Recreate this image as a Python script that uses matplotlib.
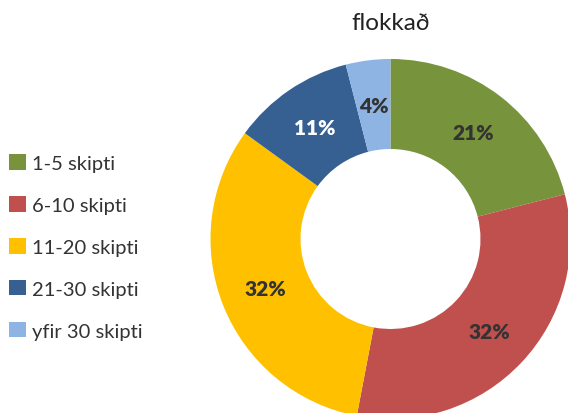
import matplotlib
matplotlib.use("Agg")
import matplotlib.pyplot as plt
from matplotlib.patches import Patch
import numpy as np

categories = ["1-5 skipti", "6-10 skipti", "11-20 skipti", "21-30 skipti", "yfir 30 skipti"]
values = [21, 32, 32, 11, 4]
labels = ["21%", "32%", "32%", "11%", "4%"]
colors = ["#77933C", "#C0504D", "#FFC000", "#376092", "#8DB4E2"]
label_colors = ["#333333", "#333333", "#333333", "#FFFFFF", "#333333"]

plt.rcParams['font.family'] = ['Lato', 'DejaVu Sans']

W, H = 568, 414
fig = plt.figure(figsize=(W / 100, H / 100), dpi=100)

cx, cy, R = 390.5, 240, 180
ax = fig.add_axes([(cx - R) / W, (H - cy - R) / H, 2 * R / W, 2 * R / H])
wedges, _ = ax.pie(values, colors=colors, startangle=90, counterclock=False,
                   radius=1.0, wedgeprops=dict(width=0.5, linewidth=0))
total = sum(values)
cum = 0
for v, lab, lc in zip(values, labels, label_colors):
    mid = cum + v / 2
    cum += v
    ang = np.deg2rad(90 - 360 * mid / total)
    ax.text(0.75 * np.cos(ang), 0.75 * np.sin(ang), lab, ha='center', va='center',
            fontsize=15, fontweight='heavy', color=lc)
ax.set_xlim(-1, 1)
ax.set_ylim(-1, 1)
ax.set_aspect('auto')
ax.axis('off')

fig.text(391 / W, 1 - 23 / H, "flokkað", ha='center', va='center', fontsize=17.5, color='#222222')

handles = [Patch(facecolor=c, edgecolor='none') for c in colors]
leg = fig.legend(handles, categories, loc='center left', bbox_to_anchor=(0.006, 1 - 248 / H),
                 frameon=False, fontsize=14.5, handlelength=0.8, handleheight=0.8,
                 handletextpad=0.3, labelspacing=1.2, borderaxespad=0, borderpad=0.3)
for t in leg.get_texts():
    t.set_color('#333333')

fig.savefig("out.png", dpi=100)
